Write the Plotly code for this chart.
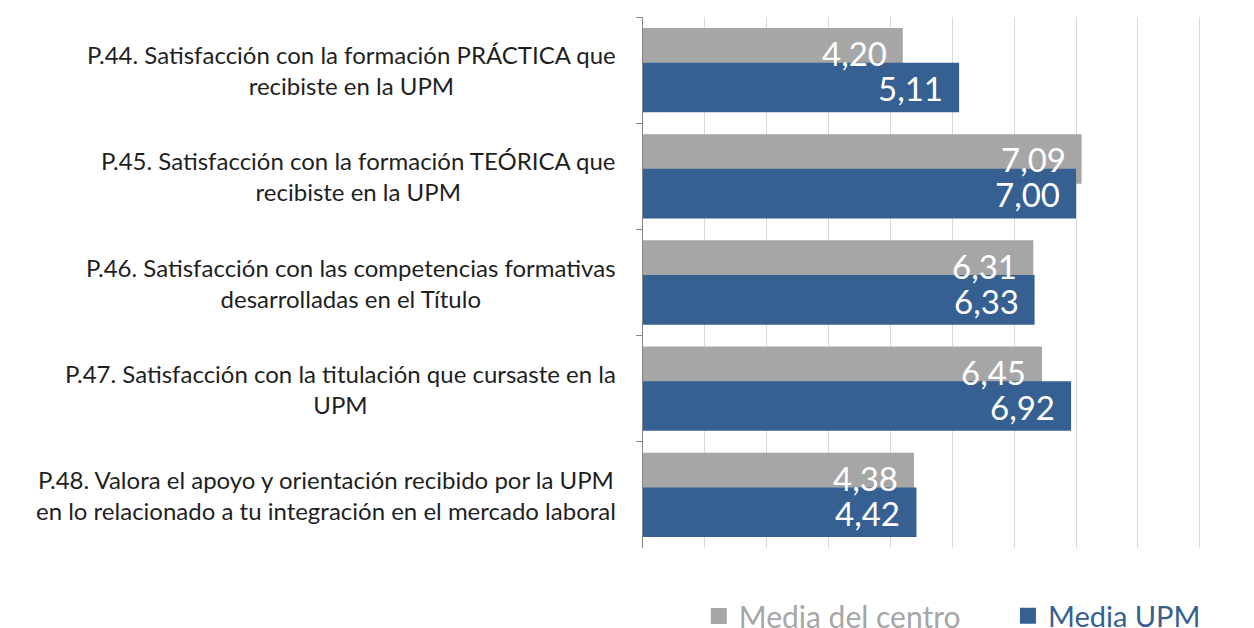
import plotly.graph_objects as go

categories = [
    "P.44. Satisfacción con la formación PRÁCTICA que<br>recibiste en la UPM",
    "P.45. Satisfacción con la formación TEÓRICA que<br>recibiste en la UPM",
    "P.46. Satisfacción con las competencias formativas<br>desarrolladas en el Título",
    "P.47. Satisfacción con la titulación que cursaste en la<br>UPM",
    "P.48. Valora el apoyo y orientación recibido por la UPM<br>en lo relacionado a tu integración en el mercado laboral",
]
media_centro = [4.20, 7.09, 6.31, 6.45, 4.38]
media_upm = [5.11, 7.00, 6.33, 6.92, 4.42]

GRAY = "#a6a6a6"
BLUE = "#366092"
FONT = "Lato"

def fmt(v):
    return f"{v:.2f}".replace(".", ",")

fig = go.Figure()
fig.add_trace(go.Bar(
    y=categories, x=media_centro, orientation="h", name="Media del centro",
    marker=dict(color=GRAY, line=dict(width=0)), offset=-0.397, width=0.467,
    showlegend=False, hoverinfo="x",
))
fig.add_trace(go.Bar(
    y=categories, x=media_upm, orientation="h", name="Media UPM",
    marker=dict(color=BLUE, line=dict(width=0)), offset=-0.07, width=0.467,
    showlegend=False, hoverinfo="x",
))
# legend entries
fig.add_trace(go.Scatter(x=[None], y=[None], mode="markers", name="Media del centro",
                         marker=dict(symbol="square", size=17, color=GRAY),
                         legend="legend", showlegend=True))
fig.add_trace(go.Scatter(x=[None], y=[None], mode="markers", name="Media UPM",
                         marker=dict(symbol="square", size=17, color=BLUE),
                         legend="legend2", showlegend=True))

annotations = []
for c, v in zip(categories, media_centro):
    annotations.append(dict(x=v, y=c, xref="x", yref="y", text=fmt(v), showarrow=False,
                            xanchor="right", yanchor="middle", xshift=-14, yshift=17,
                            font=dict(family=FONT, size=33, color="white")))
for c, v in zip(categories, media_upm):
    annotations.append(dict(x=v, y=c, xref="x", yref="y", text=fmt(v), showarrow=False,
                            xanchor="right", yanchor="middle", xshift=-14, yshift=-18,
                            font=dict(family=FONT, size=33, color="white")))
for c in categories:
    annotations.append(dict(x=0, y=c, xref="paper", yref="y", text=c, showarrow=False,
                            xanchor="right", yanchor="middle", align="center", xshift=-25,
                            font=dict(family=FONT, size=24, color="#1f1f1f")))

fig.update_layout(
    width=1246, height=620,
    margin=dict(l=635, r=53, t=9, b=80, autoexpand=False),
    paper_bgcolor="white", plot_bgcolor="white",
    barmode="overlay",
    font=dict(family=FONT),
    annotations=annotations,
    legend=dict(orientation="h", x=0.100, y=-0.128, xanchor="left", yanchor="middle",
                font=dict(family=FONT, size=30, color=GRAY), bgcolor="rgba(0,0,0,0)",
                itemsizing="trace"),
    legend2=dict(orientation="h", x=0.654, y=-0.128, xanchor="left", yanchor="middle",
                 font=dict(family=FONT, size=29, color=BLUE), bgcolor="rgba(0,0,0,0)",
                 itemsizing="trace"),
    showlegend=True,
)
fig.update_xaxes(range=[0, 9.02], dtick=1, showgrid=True, gridcolor="#d9d9d9", gridwidth=1,
                 showticklabels=False, zeroline=False, showline=False, ticks="")
fig.update_yaxes(range=[4.5, -0.5], type="category", showticklabels=False, showgrid=False,
                 showline=True, linecolor="#868686", linewidth=1, ticks="outside",
                 tickson="boundaries", ticklen=6, tickcolor="#868686")

fig.write_html("out.html")
